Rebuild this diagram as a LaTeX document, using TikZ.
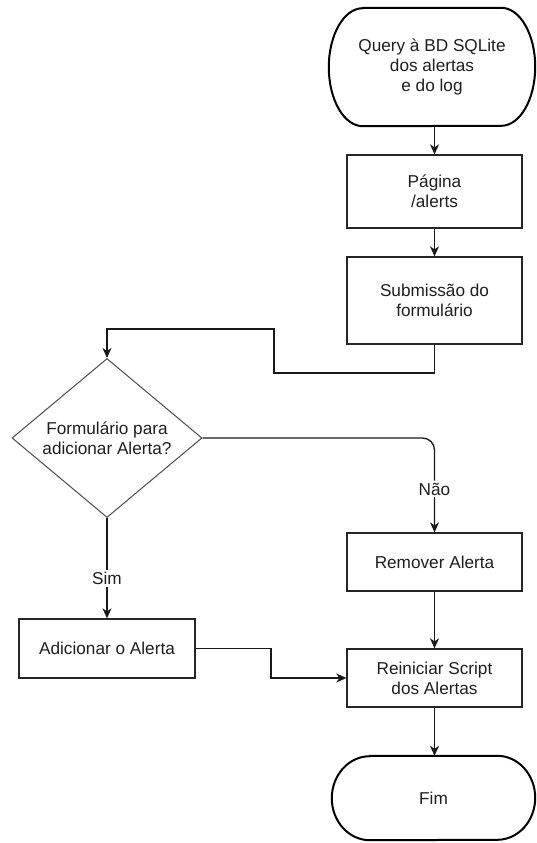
\documentclass[tikz,border=0pt]{standalone}
\usepackage{fontspec}
\setmainfont{Liberation Sans}
\usetikzlibrary{arrows.meta,shapes.geometric}
\begin{document}
\begin{tikzpicture}[x=1pt,y=-1pt,
  every node/.style={font=\fontsize{17.2}{20}\selectfont, text=black!88},
  box/.style={draw=black!85, line width=1.3pt, align=center, inner sep=0pt, minimum width=175pt},
  term/.style={align=center, inner sep=0pt},
  termline/.style={draw=black, line width=2pt},
  decision/.style={diamond, draw=black!70, line width=1pt, align=center, inner sep=0pt,
     aspect=1.195, minimum width=190pt, minimum height=159pt},
  arr/.style={draw=black!90, line width=1.3pt, -{Stealth[length=10pt,width=9pt,inset=3pt]}},
  lbl/.style={fill=white, inner sep=2pt}
]
\useasboundingbox (0,0) rectangle (536,843);
\fill[white] (0,0) rectangle (536,843);

\node[term, minimum width=206pt, minimum height=118pt] (q) at (432,67)
  {Query à BD SQLite\\dos alertas\\e do log};
\node[box, minimum height=73pt] (pag) at (434.5,191.5) {Página\\/alerts};
\node[box, minimum height=87pt] (sub) at (434.5,300.5) {Submissão do\\formulário};
\node[decision] (dia) at (107,438) {Formulário para\\adicionar Alerta?};
\node[box, minimum height=58pt] (rem) at (434.5,562) {Remover Alerta};
\node[box, minimum width=176pt, minimum height=59pt] (add) at (107,648.5) {Adicionar o Alerta};
\node[box, minimum height=58pt] (rei) at (434.5,678) {Reiniciar Script\\dos Alertas};
\node[term, minimum width=203pt, minimum height=84pt] (fim) at (433.5,798) {Fim};

% terminator outlines
\draw[termline] ([xshift=34pt]q.north west) -- ([xshift=-34pt]q.north east)
  arc[start angle=90, end angle=-90, x radius=34pt, y radius=59pt]
  -- ([xshift=34pt]q.south west)
  arc[start angle=270, end angle=90, x radius=34pt, y radius=59pt] -- cycle;
\draw[termline] ([xshift=38pt]fim.north west) -- ([xshift=-38pt]fim.north east)
  arc[start angle=90, end angle=-90, x radius=38pt, y radius=42pt]
  -- ([xshift=38pt]fim.south west)
  arc[start angle=270, end angle=90, x radius=38pt, y radius=42pt] -- cycle;

\coordinate (b1) at (274,373);
\coordinate (b2) at (274,329);
\coordinate (c1) at (271,678);

\draw[arr] (q.south -| pag.north) -- (pag.north);
\draw[arr] (pag.south) -- (sub.north);
\draw[arr] (sub.south) |- (b1) -- (b2) -| (dia.north);
\draw[arr, rounded corners=12pt] (dia.east) -| (rem.north)
  node[lbl, pos=0.77] {Não};
\draw[arr] (dia.south) -- (add.north) node[lbl, pos=0.6] {Sim};
\draw[arr] (add.east) -| (c1) -- (rei.west);
\draw[arr] (rem.south) -- (rei.north);
\draw[arr] (rei.south) -- (fim.north -| rei.south);
\end{tikzpicture}
\end{document}
